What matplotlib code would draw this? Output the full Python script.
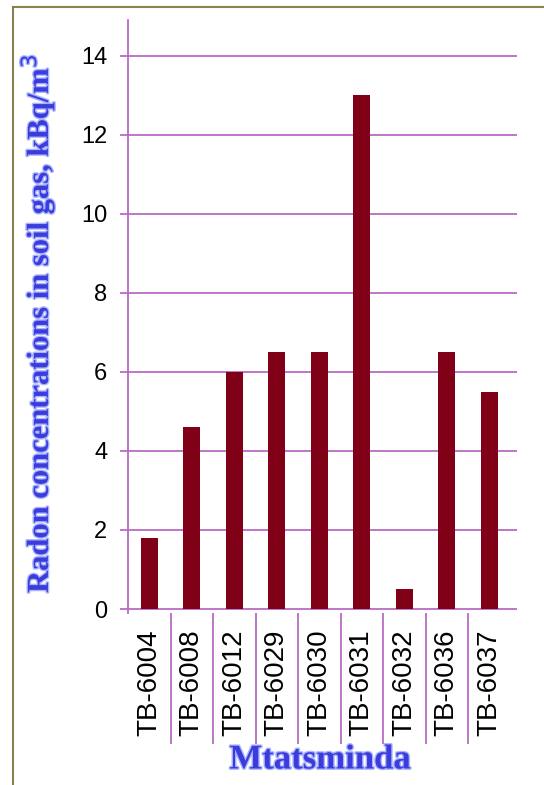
import matplotlib.pyplot as plt
from matplotlib.lines import Line2D
import matplotlib.patheffects as pe

sites = ['TB-6004', 'TB-6008', 'TB-6012', 'TB-6029', 'TB-6030',
         'TB-6031', 'TB-6032', 'TB-6036', 'TB-6037']
radon = [1.8, 4.6, 6.0, 6.5, 6.5, 13.0, 0.5, 6.5, 5.5]
yticks = [0, 2, 4, 6, 8, 10, 12, 14]

purple = '#b86cc4'
blue = '#3c3cdc'
glow = [pe.withStroke(linewidth=2, foreground='#a8b4ff')]

fig = plt.figure(figsize=(5.44, 7.85), dpi=100)
ax = fig.add_axes([128 / 544, 172 / 785, 389 / 544, 593 / 785])

x = list(range(len(sites)))
ax.bar(x, radon, width=0.4, color='#800018', zorder=3)

ax.set_xlim(-0.5, 8.65)
ax.set_ylim(-0.1, 14.9)
ax.set_yticks(yticks)
ax.set_yticklabels([str(v) for v in yticks], family='Liberation Sans', fontsize=17)
for v in yticks:
    ax.axhline(v, color=purple, lw=1.3, zorder=1)

ax.set_xticks(x)
ax.set_xticklabels(sites, rotation=90, family='Liberation Sans', fontsize=20)
ax.set_xticks([i + 0.5 for i in range(len(sites) - 1)], minor=True)
ax.tick_params(axis='x', which='major', length=0, pad=12)
ax.tick_params(axis='x', which='minor', length=94, color=purple, width=1.3, direction='out')
ax.tick_params(axis='y', length=6, color=purple, width=1.3, pad=9)

for s in ['top', 'right', 'bottom']:
    ax.spines[s].set_visible(False)
ax.spines['left'].set_color(purple)
ax.spines['left'].set_linewidth(1.3)

fig.text(38 / 544, 1 - 324 / 785, 'Radon concentrations in soil gas, kBq/m$^3$',
         rotation=90, ha='center', va='center', color=blue, fontsize=22,
         family='Liberation Serif', weight='bold', path_effects=glow)
fig.text(320 / 544, 25 / 785, 'Mtatsminda', ha='center', va='center', color=blue,
         fontsize=25, family='Liberation Serif', weight='bold', path_effects=glow)

border = '#8c8050'
fig.add_artist(Line2D([13 / 544, 13 / 544], [0, 1 - 7 / 785], color=border, lw=1.5,
                      transform=fig.transFigure))
fig.add_artist(Line2D([13 / 544, 1], [1 - 7 / 785, 1 - 7 / 785], color=border, lw=1.5,
                      transform=fig.transFigure))

fig.savefig('out.png', dpi=100)
